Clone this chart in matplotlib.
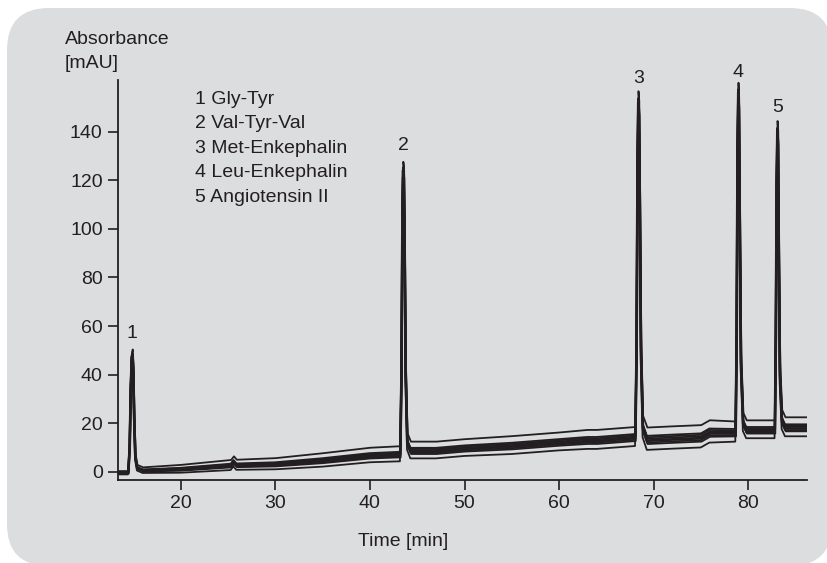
import numpy as np
import matplotlib.pyplot as plt
from matplotlib.patches import FancyBboxPatch
from matplotlib.transforms import IdentityTransform

plt.rcParams["font.family"] = ["Liberation Sans", "DejaVu Sans"]
INK = "#231f20"

# ── data: overlaid peptide runs ────────────────────────────
# retention time (min) and mean absorbance (mAU) of the runs
time_min = [13.3, 14.45, 14.6, 14.72, 14.82, 14.9, 14.98, 15.08, 15.2, 15.4, 16.0,
            20.0, 25.3, 25.6, 25.9, 30.0, 35.0, 40.0,
            43.2, 43.33, 43.43, 43.5, 43.58, 43.66, 43.78, 43.95, 44.3,
            47.0, 50.0, 55.0, 60.0, 63.0, 64.0,
            68.05, 68.18, 68.28, 68.36, 68.44, 68.53, 68.65, 68.85, 69.3,
            72.0, 75.0, 75.9,
            78.65, 78.76, 78.85, 78.93, 79.0, 79.1, 79.22, 79.45, 79.8,
            82.8, 82.9, 82.99, 83.06, 83.13, 83.22, 83.34, 83.55, 83.9, 86.2]
mean_mau = [-0.5, -0.5, 10, 35, 47, 48, 42, 22, 6, 1.5, 0.5,
            1.0, 2.5, 4.0, 2.6, 3.0, 4.5, 6.5,
            7.0, 40, 105, 124, 122, 95, 40, 12, 8.5,
            8.5, 9.5, 10.5, 12.0, 12.8, 12.8,
            14.0, 50, 125, 152, 148, 110, 50, 18, 13.0,
            13.5, 14.0, 16.0,
            16.0, 55, 130, 156, 150, 100, 45, 20, 17.0,
            17.0, 55, 118, 140, 136, 90, 40, 21, 18.0, 18.0]
# how far apart the runs drift at each time point
run_spread = [0.3, 0.3, 0.4, 0.6, 0.8, 0.9, 0.8, 0.6, 0.5, 0.5, 0.5,
              0.7, 0.9, 0.9, 0.9, 1.0, 1.2, 1.3,
              1.35, 1.4, 1.4, 1.4, 1.4, 1.4, 1.4, 1.45, 1.5,
              1.5, 1.5, 1.6, 1.6, 1.7, 1.7,
              1.7, 1.75, 1.8, 1.8, 1.8, 1.8, 1.85, 1.9, 2.0,
              2.0, 2.0, 2.0,
              1.8, 1.7, 1.6, 1.6, 1.6, 1.6, 1.6, 1.6, 1.6,
              1.6, 1.7, 1.7, 1.7, 1.7, 1.7, 1.7, 1.7, 1.7, 1.7]
run_offsets = [2.6, 0.9, 0.6, 0.3, 0.0, -0.2, -0.5, -0.8, -2.0]
run_shifts = [0.03, -0.02, 0.0, 0.04, -0.04, 0.02, -0.01, 0.05, -0.03]

peak_ids = ["1", "2", "3", "4", "5"]
peak_times = [14.88, 43.53, 68.37, 78.94, 83.07]
label_heights = [57, 134.5, 162, 164.5, 150]
peak_names = ["Gly-Tyr", "Val-Tyr-Val", "Met-Enkephalin", "Leu-Enkephalin", "Angiotensin II"]

y_ticks = [0, 20, 40, 60, 80, 100, 120, 140]
x_ticks = [20, 30, 40, 50, 60, 70, 80]

# ── figure ─────────────────────────────────────────────────
W, H = 828, 563
fig = plt.figure(figsize=(W / 100, H / 100), dpi=100, facecolor="white")

# grey rounded panel behind the chart (pixel coords)
panel = FancyBboxPatch((7, -3), 825, 558, boxstyle="round,pad=0,rounding_size=42",
                       transform=IdentityTransform(), facecolor="#dcdddf",
                       edgecolor="none", zorder=-1)
fig.add_artist(panel)

ax = fig.add_axes([118 / W, 1 - 480 / H, (807 - 118) / W, 400 / H])
ax.set_facecolor("none")

t = np.array(time_min)
for off, sh in zip(run_offsets, run_shifts):
    y = np.array(mean_mau) + off * np.array(run_spread)
    ax.plot(t + sh, y, color=INK, lw=1.3)

for pid, pt, ph in zip(peak_ids, peak_times, label_heights):
    ax.text(pt, ph, pid, ha="center", va="center", fontsize=14, color=INK, clip_on=False)

ax.set_xlim(13.37, 86.2)
ax.set_ylim(-3.4, 161.3)
ax.set_xticks(x_ticks)
ax.set_yticks(y_ticks)
for s in ["top", "right"]:
    ax.spines[s].set_visible(False)
for s in ["left", "bottom"]:
    ax.spines[s].set_color(INK)
    ax.spines[s].set_linewidth(1.3)
ax.tick_params(direction="out", length=7, width=1.2, color=INK,
               labelcolor=INK, labelsize=14, pad=4)

fig.text(65 / W, 1 - 40 / H, "Absorbance", ha="left", va="center", fontsize=14, color=INK)
fig.text(65 / W, 1 - 64 / H, "[mAU]", ha="left", va="center", fontsize=14, color=INK)
fig.text(403 / W, 1 - 542 / H, "Time [min]", ha="center", va="center", fontsize=14, color=INK)

for i, (pid, name) in enumerate(zip(peak_ids, peak_names)):
    fig.text(195 / W, 1 - (99 + 24.5 * i) / H, f"{pid} {name}",
             ha="left", va="center", fontsize=14, color=INK)

fig.savefig("out.png", dpi=100)
plt.close(fig)
